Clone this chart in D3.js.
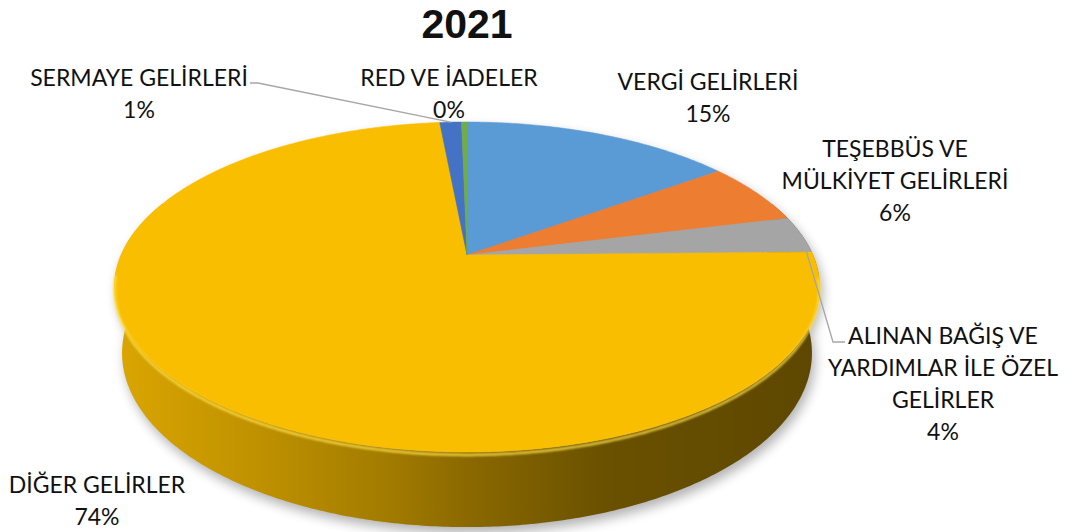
<!DOCTYPE html>
<html>
<head>
<meta charset="utf-8">
<script src="https://cdn.jsdelivr.net/npm/d3@7"></script>
<style>
  body { margin: 0; background: #fff; }
  svg { display: block; }
  text { font-family: Lato, "Open Sans", sans-serif; fill: #111; }
</style>
</head>
<body>
<svg id="chart"></svg>
<script>
// chart data (percent of total)
const title = "2021";
const categories = [
    "VERGİ GELİRLERİ",
    "TEŞEBBÜS VE MÜLKİYET GELİRLERİ",
    "ALINAN BAĞIŞ VE YARDIMLAR İLE ÖZEL GELİRLER",
    "DİĞER GELİRLER",
    "SERMAYE GELİRLERİ",
    "RED VE İADELER"
];
const values = [15.0, 6.1, 3.6, 73.8, 1.2, 0.3];
const labelLines = [
    ["VERGİ GELİRLERİ"],
    ["TEŞEBBÜS VE", "MÜLKİYET GELİRLERİ"],
    ["ALINAN BAĞIŞ VE", "YARDIMLAR İLE ÖZEL", "GELİRLER"],
    ["DİĞER GELİRLER"],
    ["SERMAYE GELİRLERİ"],
    ["RED VE İADELER"]
];
const colors = ["#5B9BD5", "#ED7D31", "#A5A5A5", "#FABE00", "#4472C4", "#70AD47"];

// layout
const width = 1073, height = 532;
const cx = 467, cy = 255;          // apex of the pie on screen
const F = 346;                     // radius scale
const S = 0.459, C = 0.888;        // sin / cos of the tilt
const P = 0.2185;                  // perspective strength
const H = 0.216;                   // thickness, in radius units
const lineH = 32;
const labelPos = [[708, 90], [895, 157], [943, 344], [97, 493], [139, 86], [449, 86]];
// leader lines: points next to the label, the slice end is computed
const leaders = {
    4: [[250, 83], [258, 83]],
    2: [[845, 342], [833, 342]]
};

const svg = d3.select("#chart").attr("width", width).attr("height", height);
const defs = svg.append("defs");

// project a point of the disc (angle from 12 o'clock, clockwise) to the screen
function proj(phi, z, r = 1) {
    const x = r * Math.sin(phi), y = r * Math.cos(phi);
    const depth = 1 + P * (y * C - z * S);
    return [cx + F * x / depth, cy - F * (y * S + z * C) / depth];
}

function arcPts(a0, a1, z) {
    const n = Math.max(2, Math.ceil(Math.abs(a1 - a0) / 0.01));
    return d3.range(n + 1).map(i => proj(a0 + (a1 - a0) * i / n, z));
}

const line = d3.line();

const pie = d3.pie().sort(null).value(d => d).startAngle(0).endAngle(2 * Math.PI);
const arcs = pie(values);

// soft shadow
defs.append("filter").attr("id", "shadow")
    .attr("x", "-20%").attr("y", "-20%").attr("width", "140%").attr("height", "140%")
    .append("feGaussianBlur").attr("stdDeviation", 6);
defs.append("filter").attr("id", "soft")
    .append("feGaussianBlur").attr("stdDeviation", 1);

const lo = Math.PI / 2 - 0.35, hi = 3 * Math.PI / 2 + 0.35;
const silhouette = line(arcPts(0, 2 * Math.PI, 0)) + "Z" +
    line(arcPts(lo, hi, 0).concat(arcPts(hi, lo, -H))) + "Z";
svg.append("path")
    .attr("d", silhouette)
    .attr("fill", "#000")
    .attr("opacity", 0.3)
    .attr("transform", "translate(3,6)")
    .attr("filter", "url(#shadow)");

// side wall gradients, darker to the right
const shade = d3.scaleLinear()
    .domain([0, 0.2, 0.38, 0.5, 0.7, 1])
    .range([0.4, 0.75, 1.2, 1.65, 2.4, 2.75]);
arcs.forEach((d, i) => {
    const g = defs.append("linearGradient").attr("id", "side" + i)
        .attr("gradientUnits", "userSpaceOnUse")
        .attr("x1", cx - F).attr("x2", cx + F).attr("y1", 0).attr("y2", 0);
    shade.domain().forEach(o => {
        g.append("stop").attr("offset", o)
            .attr("stop-color", d3.color(colors[i]).darker(shade(o)).formatHex());
    });
});

// side walls (front half only)
arcs.forEach((d, i) => {
    const a0 = Math.max(d.startAngle, lo), a1 = Math.min(d.endAngle, hi);
    if (a1 <= a0) return;
    const pts = arcPts(a0, a1, 0).concat(arcPts(a1, a0, -H));
    svg.append("path")
        .attr("d", line(pts) + "Z")
        .attr("fill", `url(#side${i})`);
});

// top faces
arcs.forEach((d, i) => {
    const pts = [proj(0, 0, 0)].concat(arcPts(d.startAngle, d.endAngle, 0));
    svg.append("path")
        .attr("d", line(pts) + "Z")
        .attr("fill", colors[i])
        .attr("stroke", colors[i])
        .attr("stroke-width", 0.5);
});

// bright rim along the front edge of the top
svg.append("path")
    .attr("d", line(arcPts(1.7, 4.6, -0.008)))
    .attr("fill", "none")
    .attr("stroke", "#FFE04A")
    .attr("stroke-width", 2.5)
    .attr("opacity", 0.85)
    .attr("filter", "url(#soft)");

// leader lines
Object.keys(leaders).forEach(k => {
    const d = arcs[k];
    const mid = (d.startAngle + d.endAngle) / 2;
    const pts = leaders[k].concat([proj(mid, 0)]);
    svg.append("path")
        .attr("d", line(pts))
        .attr("fill", "none")
        .attr("stroke", "#A6A6A6")
        .attr("stroke-width", 1.3);
});

// labels
const pct = v => Math.round(v) + "%";
arcs.forEach((d, i) => {
    const t = svg.append("text")
        .attr("x", labelPos[i][0])
        .attr("y", labelPos[i][1])
        .attr("text-anchor", "middle")
        .attr("font-size", 23);
    labelLines[i].concat([pct(values[i])]).forEach((s, j) => {
        t.append("tspan")
            .attr("x", labelPos[i][0])
            .attr("y", labelPos[i][1] + j * lineH)
            .text(s);
    });
});

svg.append("text")
    .attr("x", cx)
    .attr("y", 38)
    .attr("text-anchor", "middle")
    .style("font-family", "'Liberation Sans', Arial, sans-serif")
    .attr("font-size", 41)
    .attr("font-weight", "bold")
    .text(title);
</script>
</body>
</html>
